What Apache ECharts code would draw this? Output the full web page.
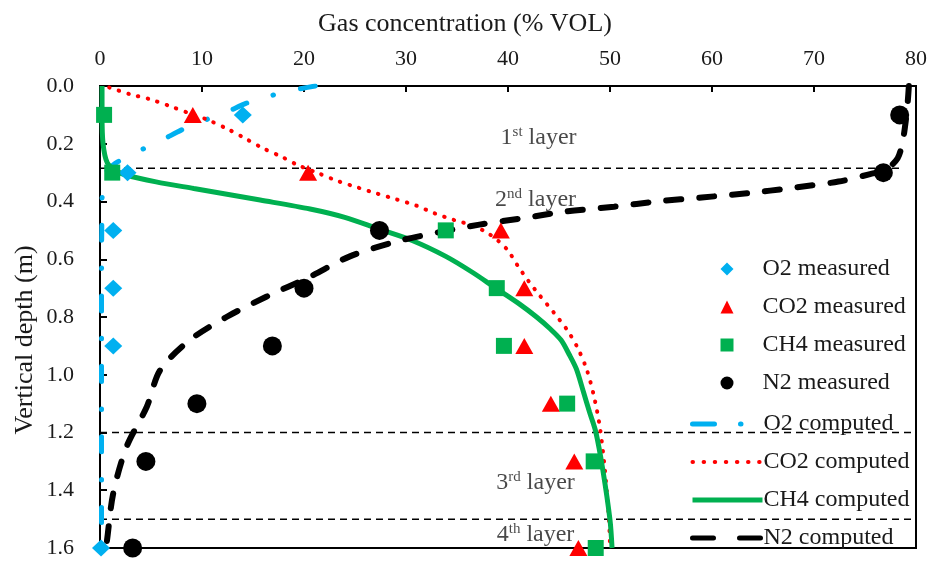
<!DOCTYPE html>
<html>
<head>
<meta charset="utf-8">
<script src="https://cdn.jsdelivr.net/npm/echarts@6/dist/echarts.min.js"></script>
<style>
  html, body { margin: 0; padding: 0; background: #fff; }
  #chart { width: 930px; height: 562px; }
</style>
</head>
<body>
<div id="chart"></div>
<script>
// Sampling depths (m) of the measured profiles
const depths = [0.1, 0.3, 0.5, 0.7, 0.9, 1.1, 1.3, 1.6];

// Measured concentrations (% VOL) at each depth; null = no reading
const o2Measured  = [14.0, 2.7, 1.3, 1.3, 1.3, null, null, 0.1];
const co2Measured = [9.1, 20.4, 39.3, 41.6, 41.6, 44.2, 46.5, 46.9];
const ch4Measured = [0.4, 1.2, 33.9, 38.9, 39.6, 45.8, 48.4, 48.6];
const n2Measured  = [78.4, 76.8, 27.4, 20.0, 16.9, 9.5, 4.5, 3.2];

// Computed profiles: [concentration (% VOL), depth (m)]
const o2Computed = [
  [21.1, 0], [19.0, 0.014], [16.6, 0.035], [14.3, 0.06], [12.5, 0.089],
  [10.3, 0.118], [8.0, 0.152], [6.2, 0.185], [4.0, 0.222], [1.5, 0.268],
  [0.5, 0.305], [0.2, 0.4], [0.15, 0.8], [0.15, 1.2], [0.15, 1.6]
];
const co2Computed = [
  [0.9, 0.005], [2.9, 0.028], [4.9, 0.046], [6.8, 0.069], [8.8, 0.095],
  [10.4, 0.115], [12.4, 0.147], [14.2, 0.181], [16.0, 0.216], [17.8, 0.245],
  [19.4, 0.274], [21.4, 0.302], [23.3, 0.329], [25.3, 0.352], [27.1, 0.372],
  [29.0, 0.392], [31.0, 0.414], [32.8, 0.441], [34.7, 0.464], [36.5, 0.483],
  [37.8, 0.505], [39.0, 0.535], [40.0, 0.57], [41.0, 0.625], [42.0, 0.675],
  [43.1, 0.725], [44.5, 0.785], [45.8, 0.845], [46.8, 0.905], [47.7, 0.98],
  [48.4, 1.07], [49.0, 1.18], [49.5, 1.33], [49.9, 1.503], [50.0, 1.59]
];
const ch4Computed = [
  [0.2, 0], [0.2, 0.1], [0.3, 0.2], [0.7, 0.265], [1.5, 0.292],
  [2.7, 0.31], [5.5, 0.332], [9.2, 0.355], [15.7, 0.395], [20.6, 0.426],
  [24.0, 0.455], [27.3, 0.495], [30.6, 0.535], [33.9, 0.59], [36.5, 0.645],
  [38.8, 0.70], [41.0, 0.752], [42.8, 0.80], [44.1, 0.84], [45.2, 0.88],
  [46.0, 0.93], [46.7, 0.98], [47.4, 1.06], [48.0, 1.13], [48.6, 1.197],
  [49.3, 1.33], [50.0, 1.503], [50.2, 1.6]
];
const n2Computed = [
  [79.3, 0], [79.2, 0.05], [79.0, 0.12], [78.7, 0.19], [78.2, 0.25],
  [77.0, 0.29], [75.5, 0.305], [72.4, 0.331], [67.8, 0.353], [63.6, 0.371],
  [59.0, 0.386], [54.8, 0.399], [50.4, 0.418], [45.3, 0.436], [41.8, 0.456],
  [37.2, 0.48], [33.3, 0.506], [29.0, 0.539], [24.5, 0.59], [20.5, 0.662],
  [16.3, 0.73], [12.4, 0.80], [8.8, 0.88], [5.9, 0.984], [4.6, 1.11],
  [2.6, 1.25], [1.3, 1.41], [0.7, 1.57], [0.6, 1.6]
];

// Layer boundaries: [depth (m), right end of the line (% VOL)]
const layerBounds = [[0.285, 78.6], [1.2, 80], [1.5, 80]];
// Layer captions: [number, ordinal suffix, x (% VOL), depth (m)]
const layerNames = [
  ['1', 'st', 43.0, 0.18],
  ['2', 'nd', 42.7, 0.395],
  ['3', 'rd', 42.7, 1.375],
  ['4', 'th', 42.7, 1.555]
];

const xTicks = [0, 10, 20, 30, 40, 50, 60, 70, 80];
const yTicks = [0, 0.2, 0.4, 0.6, 0.8, 1.0, 1.2, 1.4, 1.6];

const FONT = '"Liberation Serif", "Times New Roman", serif';
const BLUE = '#00B0F0', RED = '#FF0000', GREEN = '#00B050', BLACK = '#000000';

function pairs(values) {
  return values.map((v, i) => v == null ? null : [v, depths[i]]).filter(p => p);
}

const chart = echarts.init(document.getElementById('chart'), null, { renderer: 'canvas' });

const layerLineSeries = layerBounds.map((b, i) => ({
  name: 'layer' + i,
  type: 'line',
  data: [[0, b[0]], [b[1], b[0]]],
  symbol: 'none',
  silent: true,
  z: 1,
  lineStyle: { color: BLACK, width: 1.5, type: [7, 5] }
}));

const legendText = { fontFamily: FONT, fontSize: 24, color: '#1a1a1a' };
const hiddenSymbol = { color: 'transparent', borderWidth: 0, opacity: 0 };

const option = {
  animation: false,
  backgroundColor: '#fff',
  textStyle: { fontFamily: FONT },
  grid: {
    left: 100, right: 12, top: 86, bottom: 14,
    show: true, borderColor: BLACK, borderWidth: 2, backgroundColor: 'transparent'
  },
  xAxis: {
    type: 'value', position: 'top',
    min: xTicks[0], max: xTicks[xTicks.length - 1], interval: 10,
    axisLine: { show: true, lineStyle: { color: BLACK, width: 2 } },
    axisTick: { show: true, inside: true, length: 6, lineStyle: { color: BLACK, width: 2 } },
    axisLabel: { color: '#1a1a1a', fontSize: 22, fontFamily: FONT, margin: 16 },
    splitLine: { show: false }
  },
  yAxis: {
    type: 'value', inverse: true,
    min: yTicks[0], max: yTicks[yTicks.length - 1], interval: 0.2,
    axisLine: { show: true, lineStyle: { color: BLACK, width: 2 } },
    axisTick: { show: true, inside: true, length: 7, lineStyle: { color: BLACK, width: 2 } },
    axisLabel: { color: '#1a1a1a', fontSize: 22, fontFamily: FONT, margin: 26,
      formatter: v => v.toFixed(1) },
    splitLine: { show: false }
  },
  graphic: [
    { type: 'text', left: 'center', top: 11,
      style: { text: 'Gas concentration (% VOL)', font: '26px ' + FONT, fill: '#1a1a1a' } },
    { type: 'text', x: 25, y: 340, rotation: Math.PI / 2,
      style: { text: 'Vertical depth (m)', font: '26px ' + FONT, fill: '#1a1a1a',
        align: 'center', verticalAlign: 'middle' } }
  ],
  legend: [
    {
      // measured points
      orient: 'vertical', left: 715.5, top: 252,
      itemWidth: 13, itemHeight: 13, itemGap: 14,
      textStyle: Object.assign({ padding: [0, 0, 0, 24] }, legendText),
      data: [
        { name: 'O2 measured', icon: 'diamond' },
        { name: 'CO2 measured', icon: 'triangle' },
        { name: 'CH4 measured', icon: 'rect' },
        { name: 'N2 measured', icon: 'circle' }
      ]
    },
    {
      // computed profiles
      orient: 'vertical', left: 685, top: 407,
      itemWidth: 70, itemHeight: 13, itemGap: 14,
      textStyle: Object.assign({ padding: [0, 0, 0, -4] }, legendText),
      data: [
        { name: 'O2 computed', itemStyle: hiddenSymbol,
          lineStyle: { width: 5, type: [22, 26, 0.5, 40], cap: 'round' } },
        { name: 'CO2 computed', itemStyle: hiddenSymbol,
          lineStyle: { width: 4, type: [0.5, 10.6], cap: 'round' } },
        { name: 'CH4 computed', itemStyle: hiddenSymbol,
          lineStyle: { width: 5 } },
        { name: 'N2 computed', itemStyle: hiddenSymbol,
          lineStyle: { width: 5, type: [21, 26], cap: 'round' } }
      ]
    }
  ],
  series: [
    ...layerLineSeries,
    {
      name: 'O2 computed', type: 'line', data: o2Computed, symbol: 'none', smooth: 0.3, z: 2,
      lineStyle: { color: BLUE, width: 5, type: [15, 27.5, 0.5, 27.5], cap: 'round' },
      itemStyle: { color: BLUE }
    },
    {
      name: 'CO2 computed', type: 'line', data: co2Computed, symbol: 'none', smooth: 0.3, z: 2,
      lineStyle: { color: RED, width: 4, type: [0.5, 9.5], cap: 'round' },
      itemStyle: { color: RED }
    },
    {
      name: 'CH4 computed', type: 'line', data: ch4Computed, symbol: 'none', smooth: 0.3, z: 2,
      lineStyle: { color: GREEN, width: 5 },
      itemStyle: { color: GREEN }
    },
    {
      name: 'N2 computed', type: 'line', data: n2Computed, symbol: 'none', smooth: 0.3, z: 3,
      lineStyle: { color: BLACK, width: 6, type: [15, 18], cap: 'round' },
      itemStyle: { color: BLACK }
    },
    {
      name: 'O2 measured', type: 'scatter', data: pairs(o2Measured), z: 4,
      symbol: 'diamond', symbolSize: [18, 17], itemStyle: { color: BLUE, opacity: 1 }
    },
    {
      name: 'CO2 measured', type: 'scatter', data: pairs(co2Measured), z: 4,
      symbol: 'triangle', symbolSize: [18, 16], itemStyle: { color: RED, opacity: 1 }
    },
    {
      name: 'CH4 measured', type: 'scatter', data: pairs(ch4Measured), z: 4,
      symbol: 'rect', symbolSize: 16, itemStyle: { color: GREEN, opacity: 1 }
    },
    {
      name: 'N2 measured', type: 'scatter', data: pairs(n2Measured), z: 4,
      symbol: 'circle', symbolSize: 19, itemStyle: { color: BLACK, opacity: 1 }
    },
    {
      name: 'layer names', type: 'scatter', silent: true, z: 5,
      data: layerNames.map(l => ({ value: [l[2], l[3]], num: l[0], suf: l[1] })),
      symbolSize: 0,
      label: {
        show: true, position: 'inside', color: '#1a1a1a',
        formatter: p => '{n|' + p.data.num + '}{s|' + p.data.suf + '}{n| layer}',
        rich: {
          n: { fontFamily: FONT, fontSize: 24, color: '#1a1a1a', lineHeight: 26 },
          s: { fontFamily: FONT, fontSize: 15, color: '#1a1a1a', lineHeight: 15, verticalAlign: 'top' }
        }
      }
    }
  ]
};

chart.setOption(option);
</script>
</body>
</html>
